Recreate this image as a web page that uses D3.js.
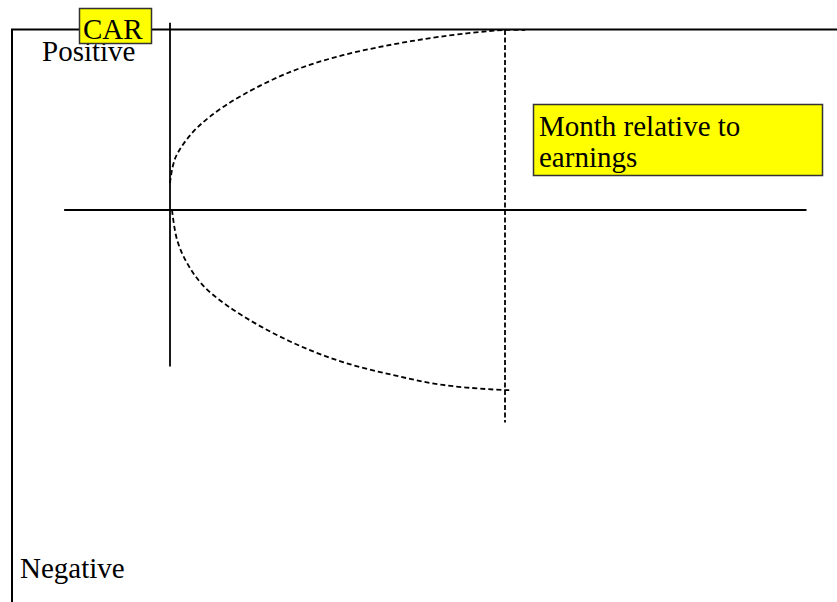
<!DOCTYPE html>
<html>
<head>
<meta charset="utf-8">
<script src="https://cdn.jsdelivr.net/npm/d3@7"></script>
<style>
  body { margin: 0; background: #fff; }
  svg { display: block; }
  text { font-family: "Liberation Serif", "Times New Roman", serif; }
</style>
</head>
<body>
<div></div>
<script>
// months relative to earnings (0 = announcement, 100 = end of window), CAR in arbitrary units
let upperMonths = [0, 1.5, 6, 12, 21.8, 36.7, 51.6, 66.6, 81.5, 99.4, 106];
let upperCar    = [15, 28.5, 41.5, 52, 64, 77.3, 86, 92, 96.5, 100, 100];
let lowerMonths = [0.6, 2.1, 5.1, 9.9, 17, 26.9, 38.8, 51.6, 66.6, 81.5, 99.4, 102];
let lowerCar    = [0, -16.5, -29.5, -42, -53, -64.5, -75.5, -84.5, -91.7, -97.2, -100, -100];
let windowEnd = 100;
let labels = { top: "Positive", bottom: "Negative", yTitle: "CAR", xTitle: ["Month relative to", "earnings"] };

function main(){
    let width = 837;
    let height = 602;

    let svg = d3.select("div")
                .append("svg")
                .attr("width", width)
                .attr("height", height);

    let xScale = d3.scaleLinear().domain([0, 100]).range([170, 505]);
    let yScale = d3.scaleLinear().domain([-100, 100]).range([390, 30]);

    // outer frame
    svg.append("rect")
        .attr("x", 12).attr("y", 29.5)
        .attr("width", 840).attr("height", 600)
        .attr("fill", "none")
        .attr("stroke", "#000")
        .attr("stroke-width", 2);

    // axes
    svg.append("line")
        .attr("x1", xScale(0)).attr("x2", xScale(0))
        .attr("y1", yScale(104)).attr("y2", yScale(-87))
        .attr("stroke", "#000").attr("stroke-width", 1.8);

    svg.append("line")
        .attr("x1", xScale(-31.6)).attr("x2", xScale(190))
        .attr("y1", yScale(0)).attr("y2", yScale(0))
        .attr("stroke", "#000").attr("stroke-width", 1.8);

    // end of window marker
    svg.append("line")
        .attr("x1", xScale(windowEnd)).attr("x2", xScale(windowEnd))
        .attr("y1", yScale(100)).attr("y2", yScale(-118))
        .attr("stroke", "#000").attr("stroke-width", 1.8)
        .attr("stroke-dasharray", "5,2.5");

    let line = d3.line()
                .x(d => xScale(d[0]))
                .y(d => yScale(d[1]))
                .curve(d3.curveCatmullRom.alpha(0.5));

    let upper = upperMonths.map((m, i) => [m, upperCar[i]]);
    let lower = lowerMonths.map((m, i) => [m, lowerCar[i]]);

    [upper, lower].forEach(pts => {
        svg.append("path")
            .attr("d", line(pts))
            .attr("fill", "none")
            .attr("stroke", "#000")
            .attr("stroke-width", 1.8)
            .attr("stroke-dasharray", "5,3");
    });

    // text
    svg.append("text").attr("x", 42).attr("y", 61)
        .attr("font-size", 29).text(labels.top);
    svg.append("text").attr("x", 20).attr("y", 578)
        .attr("font-size", 29).text(labels.bottom);

    // yellow label boxes
    svg.append("rect")
        .attr("x", 79.5).attr("y", 8.5).attr("width", 72).attr("height", 35)
        .attr("fill", "#ffff00").attr("stroke", "#333").attr("stroke-width", 1.5);
    svg.append("text").attr("x", 83).attr("y", 39)
        .attr("font-size", 29).text(labels.yTitle);

    svg.append("rect")
        .attr("x", 533.5).attr("y", 104.5).attr("width", 289).attr("height", 71)
        .attr("fill", "#ffff00").attr("stroke", "#333").attr("stroke-width", 1.5);
    svg.append("text").attr("x", 539).attr("y", 136)
        .attr("font-size", 29)
        .selectAll("tspan")
        .data(labels.xTitle)
        .enter()
        .append("tspan")
        .attr("x", 539)
        .attr("dy", (d, i) => i === 0 ? 0 : 31)
        .text(d => d);
}
main();
</script>
</body>
</html>
